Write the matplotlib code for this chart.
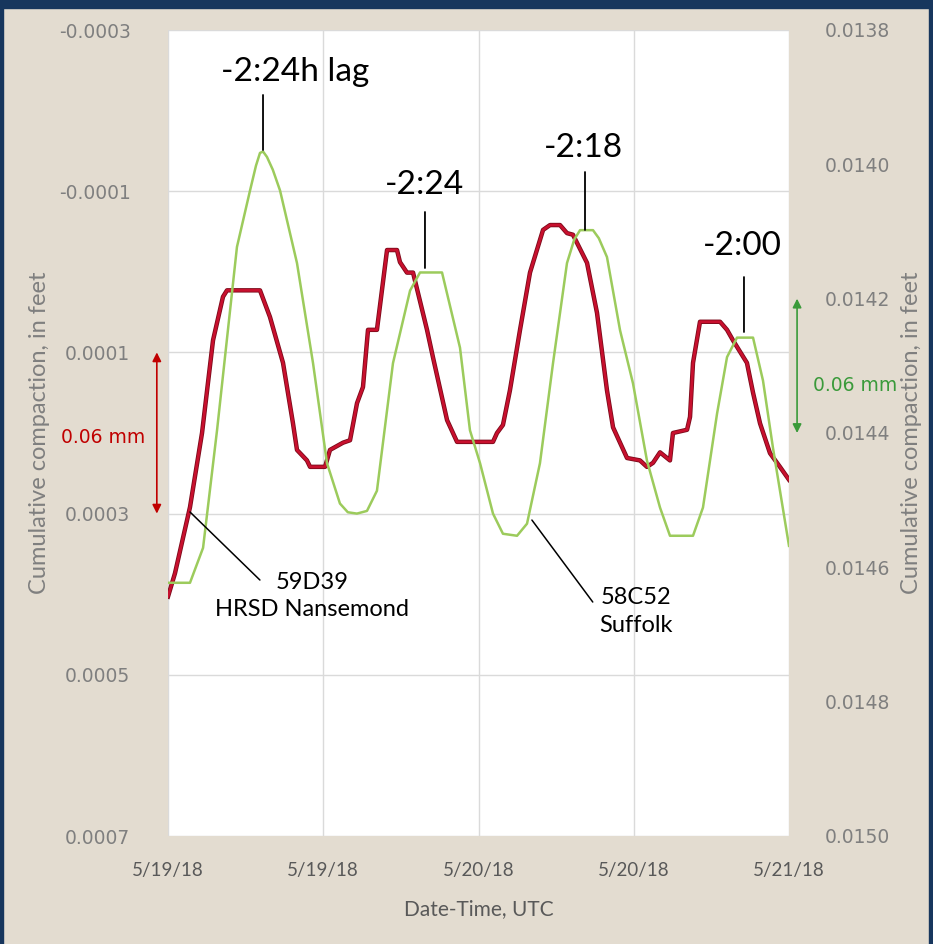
import matplotlib.pyplot as plt
import matplotlib.patheffects as pe
from matplotlib.patches import Rectangle

plt.rcParams['font.family'] = ['Lato', 'DejaVu Sans']

# hours since 5/19/18 00:00 UTC
red_hours = [0, 0.54, 1.70, 2.63, 3.48, 4.25, 4.56, 7.11, 7.88, 8.89, 9.66, 9.97,
             10.74, 10.98, 12.14, 12.52, 13.53, 14.07, 14.61, 15.07, 15.46, 16.15,
             16.93, 17.70, 17.93, 18.47, 18.94, 20.02, 20.48, 21.57, 22.34, 25.12,
             25.43, 25.89, 26.43, 27.21, 27.98, 28.99, 29.53, 30.30, 30.84, 31.30,
             32.39, 33.16, 33.93, 34.40, 35.48, 36.48, 37.02, 37.49, 38.03, 38.80,
             39.03, 40.12, 40.35, 40.58, 41.12, 42.67, 43.21, 43.67, 44.75, 45.22,
             45.76, 46.53, 47.30, 48.0]
# 59D39 HRSD Nansemond, left axis (ft)
red_ft = [0.000403, 0.000374, 0.000292, 0.000200, 0.000085, 0.000031, 0.000023,
          0.000023, 0.000056, 0.000113, 0.000188, 0.000221, 0.000234, 0.000242,
          0.000242, 0.000221, 0.000212, 0.000209, 0.000163, 0.000143, 0.000072,
          0.000072, -0.000027, -0.000027, -0.000012, 0.000001, 0.000001, 0.000072,
          0.000106, 0.000184, 0.000211, 0.000211, 0.000200, 0.000190, 0.000147,
          0.000072, 0.000001, -0.000052, -0.000058, -0.000058, -0.000048, -0.000046,
          -0.000011, 0.000051, 0.000147, 0.000193, 0.000231, 0.000234, 0.000242,
          0.000237, 0.000224, 0.000234, 0.000200, 0.000196, 0.000180, 0.000113,
          0.000062, 0.000062, 0.000072, 0.000085, 0.000113, 0.000150, 0.000188,
          0.000225, 0.000242, 0.000258]

green_hours = [0, 1.70, 2.71, 3.79, 5.33, 6.34, 6.80, 7.11, 7.35, 7.65, 8.10, 8.66,
               9.97, 11.21, 12.29, 13.29, 13.90, 14.60, 15.38, 16.15, 17.39, 18.71,
               19.48, 21.18, 22.57, 23.34, 24.12, 25.12, 25.89, 26.98, 27.75, 28.75,
               29.76, 30.84, 31.40, 31.85, 32.85, 33.30, 33.93, 34.94, 35.94, 37.02,
               38.03, 38.80, 40.58, 41.35, 42.44, 43.21, 43.98, 45.22, 45.99, 46.76,
               48.0]
# 58C52 Suffolk, right axis (ft)
green_ft = [0.014623, 0.014623, 0.014571, 0.014396, 0.014123, 0.014039, 0.014002,
            0.013983, 0.013981, 0.013989, 0.014008, 0.014039, 0.014147, 0.014296,
            0.014445, 0.014505, 0.014518, 0.014520, 0.014516, 0.014486, 0.014296,
            0.014188, 0.014161, 0.014161, 0.014273, 0.014396, 0.014445, 0.014520,
            0.014550, 0.014553, 0.014535, 0.014445, 0.014296, 0.014147, 0.014112,
            0.014098, 0.014098, 0.014110, 0.014138, 0.014247, 0.014326, 0.014441,
            0.014511, 0.014553, 0.014553, 0.014511, 0.014371, 0.014287, 0.014258,
            0.014258, 0.014322, 0.014422, 0.014568]

xtick_hours = [0, 12, 24, 36, 48]
xtick_labels = ['5/19/18', '5/19/18', '5/20/18', '5/20/18', '5/21/18']
left_ticks = [-0.0003, -0.0001, 0.0001, 0.0003, 0.0005, 0.0007]
right_ticks = [0.0138, 0.0140, 0.0142, 0.0144, 0.0146, 0.0148, 0.0150]

bg = '#E3DCD0'
navy = '#17365D'
tick_grey = '#7F7F7F'
red = '#C8102E'
green = '#9CCB5C'

fig = plt.figure(figsize=(9.33, 9.44), dpi=100, facecolor=bg)
# dark frame of the slide
fig.patches.append(Rectangle((0, 1 - 8 / 944), 1, 8 / 944, transform=fig.transFigure, color=navy))
fig.patches.append(Rectangle((0, 0), 3 / 933, 1, transform=fig.transFigure, color=navy))
fig.patches.append(Rectangle((1 - 4 / 933, 0), 4 / 933, 1, transform=fig.transFigure, color=navy))

ax = fig.add_axes([168 / 933, 1 - 836 / 944, 621 / 933, 806 / 944])
ax.set_facecolor('white')
ax.set_xlim(0, 48)
ax.set_ylim(0.0007, -0.0003)
ax.set_yticks(left_ticks)
ax.set_yticklabels(['%.4f' % t for t in left_ticks], family='DejaVu Sans', fontsize=13.5, color=tick_grey)
ax.set_xticks(xtick_hours)
ax.set_xticklabels(xtick_labels, fontsize=13.5, color='#595959')
ax.tick_params(axis='y', length=0, pad=27)
ax.tick_params(axis='x', length=0, pad=19)
ax.grid(True, color='#DADADA', lw=1)
for s in ax.spines.values():
    s.set_visible(False)

ax.plot(red_hours, red_ft, color=red, lw=2.0, zorder=3,
        path_effects=[pe.Stroke(linewidth=3.2, foreground='#7A0A1A'), pe.Normal()])

ax2 = ax.twinx()
ax2.set_ylim(0.0150, 0.0138)
ax2.set_yticks(right_ticks)
ax2.set_yticklabels(['%.4f' % t for t in right_ticks], family='DejaVu Sans', fontsize=13.5, color=tick_grey)
ax2.tick_params(axis='y', length=0, pad=26)
for s in ax2.spines.values():
    s.set_visible(False)
ax2.plot(green_hours, green_ft, color=green, lw=1.8, zorder=2)

lab_font = ['Liberation Sans Narrow', 'Lato']
ax.set_ylabel('Cumulative compaction, in feet', family=lab_font, fontsize=17, color=tick_grey)
ax.yaxis.set_label_coords(-0.19, 0.5)
ax2.set_ylabel('Cumulative compaction, in feet', family=lab_font, fontsize=17, color=tick_grey)
ax2.yaxis.set_label_coords(1.18, 0.5)
ax.set_xlabel('Date-Time, UTC', fontsize=15, color='#595959')
ax.xaxis.set_label_coords(0.5, -0.078)

# lag labels and leader lines (axes fraction)
lags = [('-2:24h lag', 0.2045, 0.9479, 0.153, 0.9194, 0.8511),
        ('-2:24', 0.4138, 0.8077, 0.4138, 0.7742, 0.7047),
        ('-2:18', 0.6683, 0.8536, 0.6715, 0.8238, 0.7519),
        ('-2:00', 0.9243, 0.7320, 0.9275, 0.6935, 0.6253)]
for txt, tx, ty, lx, y0, y1 in lags:
    ax2.text(tx, ty, txt, transform=ax2.transAxes, ha='center', va='center',
             fontsize=24, color='black', zorder=5)
    ax2.annotate('', xy=(lx, y1), xytext=(lx, y0), xycoords='axes fraction',
                 arrowprops=dict(arrowstyle='-', color='black', lw=1.3, shrinkA=0, shrinkB=0))

ax2.text(0.2319, 0.2978, '59D39\nHRSD Nansemond', transform=ax2.transAxes, ha='center',
         va='center', fontsize=17, linespacing=1.4, color='black')
ax2.annotate('', xy=(0.0354, 0.402), xytext=(0.148, 0.3176), xycoords='axes fraction',
             arrowprops=dict(arrowstyle='-', color='black', lw=1.1, shrinkA=0, shrinkB=0))
ax2.text(0.7536, 0.279, '58C52\nSuffolk', transform=ax2.transAxes, ha='center',
         va='center', fontsize=17, linespacing=1.4, color='black')
ax2.annotate('', xy=(0.586, 0.392), xytext=(0.684, 0.2903), xycoords='axes fraction',
             arrowprops=dict(arrowstyle='-', color='black', lw=1.1, shrinkA=0, shrinkB=0))

# 0.06 mm scale arrows
ax.annotate('', xy=(-0.018, 0.0003), xytext=(-0.018, 0.0001),
            xycoords=('axes fraction', 'data'), textcoords=('axes fraction', 'data'),
            arrowprops=dict(arrowstyle='<|-|>', color='#C00000', lw=1.2, shrinkA=0,
                            shrinkB=0, mutation_scale=13), annotation_clip=False)
ax.text(-0.104, 0.000206, '0.06 mm', transform=ax.get_yaxis_transform(), ha='center',
        va='center', family='DejaVu Sans', fontsize=13.5, color='#C00000', clip_on=False)
ax2.annotate('', xy=(1.013, 0.0144), xytext=(1.013, 0.0142),
             xycoords=('axes fraction', 'data'), textcoords=('axes fraction', 'data'),
             arrowprops=dict(arrowstyle='<|-|>', color='#3A9A3A', lw=1.2, shrinkA=0,
                             shrinkB=0, mutation_scale=13), annotation_clip=False)
ax2.text(1.106, 0.01433, '0.06 mm', transform=ax2.get_yaxis_transform(), ha='center',
         va='center', family='DejaVu Sans', fontsize=13.5, color='#3A9A3A', clip_on=False)

fig.savefig('out.png', dpi=100, facecolor=bg)
